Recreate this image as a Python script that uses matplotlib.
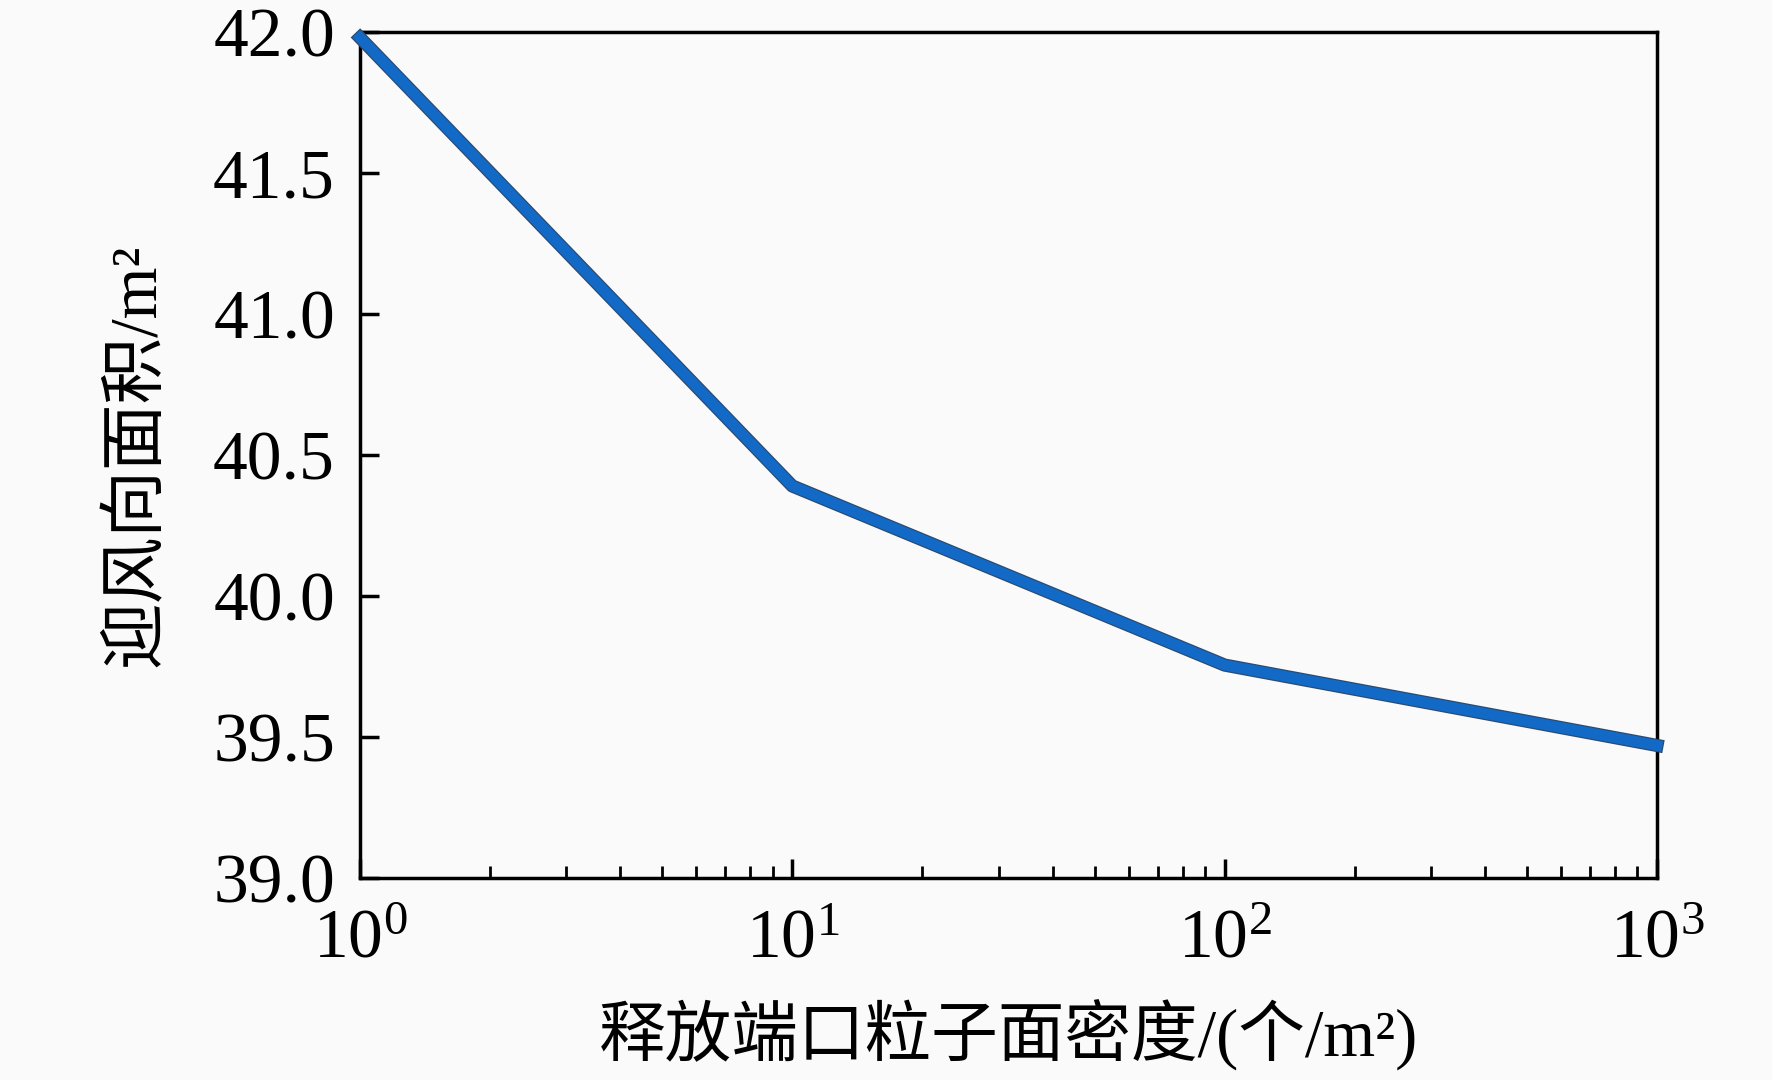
import matplotlib
matplotlib.use("Agg")
import matplotlib.pyplot as plt
from matplotlib import patheffects as pe
from matplotlib.ticker import LogLocator, FixedLocator, NullFormatter

x_density = [1, 10, 100, 1000]
y_area = [41.98, 40.39, 39.755, 39.47]
yticks = [39.0, 39.5, 40.0, 40.5, 41.0, 41.5, 42.0]
xticklabels = ["10$^{0}$", "10$^{1}$", "10$^{2}$", "10$^{3}$"]
xlabel = "释放端口粒子面密度/(个/m²)"
ylabel = "迎风向面积/m²"

plt.rcParams['font.family'] = ['Liberation Serif', 'Noto Sans CJK SC', 'DejaVu Sans']
plt.rcParams['mathtext.fontset'] = 'custom'
plt.rcParams['mathtext.rm'] = 'Liberation Serif'
plt.rcParams['mathtext.it'] = 'Liberation Serif'

bg = '#fafafa'
fig = plt.figure(figsize=(17.72, 10.80), dpi=100, facecolor=bg)
ax = fig.add_axes([360/1772, 1 - 878/1080, (1657-360)/1772, (878-32)/1080])
ax.set_facecolor(bg)

ax.plot(x_density, y_area, color='#1269c6', lw=7.8, solid_joinstyle='round',
        path_effects=[pe.Stroke(linewidth=9.5, foreground='#2a4a70'), pe.Normal()],
        clip_on=False, zorder=3)

ax.set_xscale('log')
ax.set_xlim(1, 1000)
ax.set_ylim(39.0, 42.0)
ax.set_yticks(yticks)
ax.set_yticklabels([f"{v:.1f}" for v in yticks])
ax.xaxis.set_major_locator(FixedLocator([1, 10, 100, 1000]))
ax.set_xticklabels(xticklabels)
ax.xaxis.set_minor_locator(LogLocator(base=10, subs=range(2, 10)))
ax.xaxis.set_minor_formatter(NullFormatter())

for s in ax.spines.values():
    s.set_linewidth(2.5)
    s.set_color('black')

ax.tick_params(axis='both', which='major', direction='in', length=14, width=2.5,
               labelsize=50, top=False, right=False)
ax.tick_params(axis='y', which='major', pad=18)
ax.tick_params(axis='x', which='major', pad=22)
ax.tick_params(axis='x', which='minor', direction='in', length=9, width=2,
               top=False)

ax.set_xlabel(xlabel, fontsize=48, labelpad=20)
ax.set_ylabel(ylabel, fontsize=48, labelpad=32)

fig.savefig("out.png", dpi=100, facecolor=bg)
